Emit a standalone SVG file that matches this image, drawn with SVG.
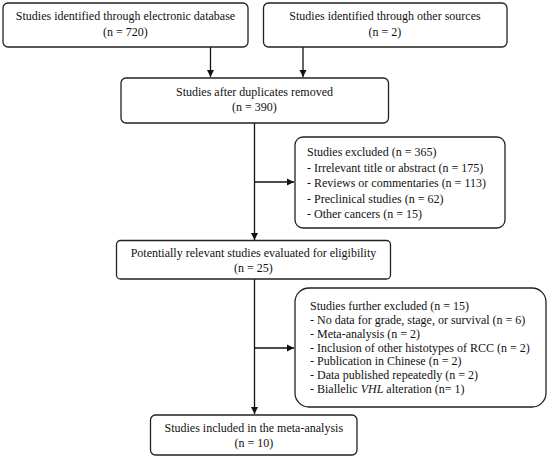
<svg xmlns="http://www.w3.org/2000/svg" width="550" height="458" viewBox="0 0 550 458">
<style>
.box{fill:#fff;stroke:#222;stroke-width:1.3}
text{font-family:"Liberation Serif","Times New Roman",serif;font-size:12px;fill:#111}
.c{text-anchor:middle}
.ln{stroke:#111;stroke-width:1.3;fill:none}
</style>
<defs>
<marker id="ah" markerWidth="8" markerHeight="8" refX="7" refY="4" orient="auto" markerUnits="userSpaceOnUse">
<path d="M0,0.5 L7,4 L0,7.5 Z" fill="#111"/>
</marker>
</defs>
<rect width="550" height="458" fill="#fff"/>
<g id="connectors">
<line class="ln" x1="210.5" y1="47" x2="210.5" y2="77" marker-end="url(#ah)"/>
<line class="ln" x1="303" y1="47" x2="303" y2="77" marker-end="url(#ah)"/>
<line class="ln" x1="254.5" y1="123" x2="254.5" y2="240" marker-end="url(#ah)"/>
<line class="ln" x1="254.5" y1="182" x2="294" y2="182" marker-end="url(#ah)"/>
<line class="ln" x1="254.5" y1="279" x2="254.5" y2="414" marker-end="url(#ah)"/>
<line class="ln" x1="254.5" y1="348" x2="294" y2="348" marker-end="url(#ah)"/>
</g>
<g id="n1">
<rect class="box" x="3" y="3" width="245" height="44" rx="5"/>
<text class="c" x="125.5" y="20">Studies identified through electronic database</text>
<text class="c" x="125.5" y="36">(n = 720)</text>
</g>
<g id="n2">
<rect class="box" x="263.5" y="3" width="243.5" height="44" rx="5"/>
<text class="c" x="385" y="20">Studies identified through other sources</text>
<text class="c" x="385" y="36">(n = 2)</text>
</g>
<g id="n3">
<rect class="box" x="121" y="78" width="267.5" height="45" rx="5"/>
<text class="c" x="254.5" y="96">Studies after duplicates removed</text>
<text class="c" x="254.5" y="111">(n = 390)</text>
</g>
<g id="n4">
<rect class="box" x="295" y="137" width="210" height="91" rx="8"/>
<text x="307" y="156">Studies excluded (n = 365)</text>
<text x="307" y="171.5">- Irrelevant title or abstract (n = 175)</text>
<text x="307" y="187">- Reviews or commentaries (n = 113)</text>
<text x="307" y="202.5">- Preclinical studies (n = 62)</text>
<text x="307" y="218">- Other cancers (n = 15)</text>
</g>
<g id="n5">
<rect class="box" x="116.5" y="240.5" width="274" height="38.5" rx="4"/>
<text class="c" x="253.5" y="257">Potentially relevant studies evaluated for eligibility</text>
<text class="c" x="253.5" y="272">(n = 25)</text>
</g>
<g id="n6">
<rect class="box" x="295" y="288" width="251" height="119" rx="14"/>
<text x="310" y="310">Studies further excluded (n = 15)</text>
<text x="310" y="324">- No data for grade, stage, or survival (n = 6)</text>
<text x="310" y="338">- Meta-analysis (n = 2)</text>
<text x="310" y="351.5">- Inclusion of other histotypes of RCC (n = 2)</text>
<text x="310" y="365">- Publication in Chinese (n = 2)</text>
<text x="310" y="379">- Data published repeatedly (n = 2)</text>
<text x="310" y="393">- Biallelic <tspan font-style="italic">VHL</tspan> alteration (n= 1)</text>
</g>
<g id="n7">
<rect class="box" x="150.5" y="415" width="206.5" height="40" rx="5"/>
<text class="c" x="253.8" y="432">Studies included in the meta-analysis</text>
<text class="c" x="253.8" y="447">(n = 10)</text>
</g>
</svg>
